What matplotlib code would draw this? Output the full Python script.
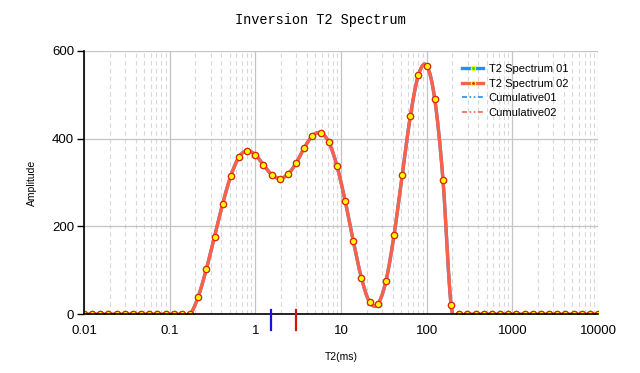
"""Inversion T2 spectrum chart (log T2 axis, smooth spline series)."""

import matplotlib
matplotlib.use("Agg")
import matplotlib.pyplot as plt
import matplotlib.transforms as mtransforms
from matplotlib.lines import Line2D
from matplotlib.ticker import LogLocator, FixedLocator, FixedFormatter, NullFormatter
import numpy as np

# T2 bins (ms), 64 log-spaced relaxation times
t2_ms = [
    0.01, 0.01245, 0.01551, 0.01931, 0.02404, 0.02994, 0.03728, 0.04642,
    0.05780, 0.07197, 0.08962, 0.1116, 0.1390, 0.1730, 0.2154, 0.2683,
    0.3340, 0.4160, 0.5179, 0.6450, 0.8031, 1.0, 1.245, 1.551,
    1.931, 2.404, 2.994, 3.728, 4.642, 5.780, 7.197, 8.962,
    11.16, 13.90, 17.30, 21.54, 26.83, 33.40, 41.60, 51.79,
    64.50, 80.31, 100.0, 124.5, 155.1, 193.1, 240.4, 299.4,
    372.8, 464.2, 578.0, 719.7, 896.2, 1116, 1390, 1730,
    2154, 2683, 3340, 4160, 5179, 6450, 8031, 10000,
]
spectrum_02 = [
    0, 0, 0, 0, 0, 0, 0, 0, 0, 0, 0, 0, 0, 0,
    40, 103, 177, 252, 315, 358, 372, 363, 340, 318, 309, 319, 344, 379,
    406, 413, 392, 338, 259, 167, 83, 28, 23, 75, 180, 316, 451, 545,
    566, 489, 306, 21,
    0, 0, 0, 0, 0, 0, 0, 0, 0, 0, 0, 0, 0, 0, 0, 0, 0, 0,
]
spectrum_01 = list(spectrum_02)  # identical, hidden under series 02
cutoff_ms = [1.54, 3.0]
cutoff_colors = ["#1515E0", "#D01515"]
legend_labels = ["T2 Spectrum 01", "T2 Spectrum 02", "Cumulative01", "Cumulative02"]


def spline(xs, ys, n=12):
    """Catmull-Rom curve through the points, computed in log-x space."""
    p = np.column_stack([np.log10(xs), ys]).astype(float)
    pad = np.vstack([p[0], p, p[-1]])
    t = np.linspace(0, 1, n, endpoint=False)[:, None]
    segs = []
    for i in range(len(p) - 1):
        p0, p1, p2, p3 = pad[i], pad[i + 1], pad[i + 2], pad[i + 3]
        segs.append(0.5 * (2 * p1 + (p2 - p0) * t
                           + (2 * p0 - 5 * p1 + 4 * p2 - p3) * t ** 2
                           + (3 * p1 - p0 - 3 * p2 + p3) * t ** 3))
    segs.append(p[-1:])
    out = np.vstack(segs)
    return 10 ** out[:, 0], out[:, 1]


plt.rcParams["font.family"] = ["Liberation Sans", "DejaVu Sans"]

fig = plt.figure(figsize=(6.4, 3.73), dpi=100)
ax = fig.add_axes([0.13125, 0.1574, 0.8031, 0.7067])
ax.set_xscale("log")
ax.set_xlim(0.01, 10000)
ax.set_ylim(0, 600)

# grid: solid majors, dashed minors on the log axis
ax.xaxis.set_minor_locator(LogLocator(base=10, subs=np.arange(2, 10), numticks=20))
ax.xaxis.set_minor_formatter(NullFormatter())
ax.xaxis.set_major_locator(FixedLocator([0.01, 0.1, 1, 10, 100, 1000, 10000]))
ax.xaxis.set_major_formatter(FixedFormatter(["0.01", "0.1", "1", "10", "100", "1000", "10000"]))
ax.set_yticks([0, 200, 400, 600])
ax.grid(which="major", color="#C4C4C4", linewidth=0.9, linestyle="-")
ax.grid(which="minor", axis="x", color="#D8D8D8", linewidth=0.8, linestyle=(0, (4, 3)))
ax.set_axisbelow(True)

for side in ("top", "right"):
    ax.spines[side].set_visible(False)
for side in ("left", "bottom"):
    ax.spines[side].set_linewidth(1.2)
    ax.spines[side].set_zorder(5)

ax.tick_params(axis="both", which="major", labelsize=9.5, length=5, width=1, pad=2)
ax.tick_params(axis="x", which="minor", length=0)
ax.tick_params(axis="x", which="major", length=0, pad=8)

blue = "#1E90FF"
tomato = "#FA6148"
sx, sy = spline(t2_ms, spectrum_01)
ax.plot(sx, sy, color=blue, lw=2.4, zorder=3)
ax.plot(t2_ms, spectrum_01, ls="none", marker="o", ms=4.5, mfc="#FFFF00", mec="#32CD32", mew=0.9, zorder=3)
sx, sy = spline(t2_ms, spectrum_02)
ax.plot(sx, sy, color=tomato, lw=2.4, zorder=4)
ax.plot(t2_ms, spectrum_02, ls="none", marker="o", ms=4.5, mfc="#FFFF00", mec="#E8200A", mew=0.9, zorder=4)

# cut-off ticks straddling the x axis
trans = mtransforms.blended_transform_factory(ax.transData, ax.transAxes)
for t2, c in zip(cutoff_ms, cutoff_colors):
    ax.plot([t2, t2], [0.015, -0.058], color=c, lw=1.6, transform=trans, clip_on=False, zorder=6)

ax.set_xlabel("T2(ms)", fontsize=7.5)
ax.set_ylabel("Amplitude", fontsize=7.5)
ax.xaxis.set_label_coords(0.5, -0.143)
ax.yaxis.set_label_coords(-0.092, 0.5)
fig.suptitle("Inversion T2 Spectrum", family="Liberation Mono", fontsize=9.8, y=0.965, x=0.5)

dash = (0, (3, 1.5, 1, 1.5, 1, 1.5))
handles = [
    Line2D([], [], color=blue, lw=2.4, marker="o", ms=3, mfc="#32CD32", mec="#FFFF00", mew=0.9),
    Line2D([], [], color=tomato, lw=2.4, marker="o", ms=3, mfc="#E8200A", mec="#FFFF00", mew=0.9),
    Line2D([], [], color=blue, lw=1.2, ls=dash),
    Line2D([], [], color=tomato, lw=1.2, ls=dash),
]
fig.legend(handles, legend_labels, loc="upper left", bbox_to_anchor=(462 / 640, 1 - 64 / 373),
           frameon=False, fontsize=8, borderpad=0, borderaxespad=0, labelspacing=0.42,
           handlelength=1.9, handletextpad=0.5)

fig.savefig("out.png", dpi=100)
